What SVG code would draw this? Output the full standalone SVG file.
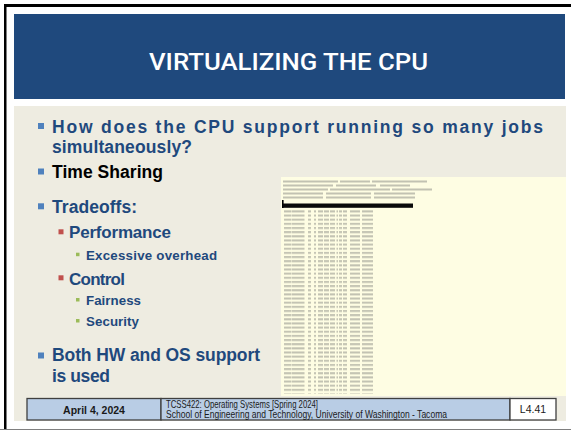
<svg xmlns="http://www.w3.org/2000/svg" width="571" height="431" viewBox="0 0 571 431">
<defs>
<style>
.t1{font-family:"Liberation Sans",Arial,sans-serif;font-weight:bold;font-size:17.5px;fill:#1F497D}
.t2{font-family:"Liberation Sans",Arial,sans-serif;font-weight:bold;font-size:17px;fill:#1F497D}
.t3{font-family:"Liberation Sans",Arial,sans-serif;font-weight:bold;font-size:13.3px;fill:#1F497D}
.ft{font-family:"Liberation Sans",Arial,sans-serif;font-size:10.5px;fill:#1a1a1a}
.fb{stroke:#3F3F3F;stroke-width:1.3}
.b1{fill:#4F81BD}
.b2{fill:#C0504D}
.b3{fill:#9BBB59}
.tx{fill:#c2c2b2}
</style>
<pattern id="rows" patternUnits="userSpaceOnUse" x="281" y="209.5" width="285" height="4.15">
<rect class="tx" x="3" y="0.9" width="7" height="2"/>
<rect class="tx" x="10.5" y="0.9" width="13" height="2"/>
<rect class="tx" x="27" y="0.9" width="3" height="2"/>
<rect class="tx" x="33" y="0.9" width="2" height="2"/>
<rect class="tx" x="37" y="0.9" width="5" height="2"/>
<rect class="tx" x="43" y="0.9" width="5" height="2"/>
<rect class="tx" x="49" y="0.9" width="5" height="2"/>
<rect class="tx" x="55.5" y="0.9" width="1.5" height="2"/>
<rect class="tx" x="58" y="0.9" width="3" height="2"/>
<rect class="tx" x="62" y="0.9" width="4" height="2"/>
<rect class="tx" x="69" y="0.9" width="10" height="2"/>
<rect class="tx" x="81" y="0.9" width="11" height="2"/>
</pattern>
</defs>
<rect width="571" height="431" fill="#ffffff"/>
<rect x="4" y="4" width="567" height="3" fill="#000"/>
<rect x="4" y="4" width="2.5" height="425" fill="#000"/>
<line x1="0" y1="429.5" x2="571" y2="429.5" stroke="#7f7f7f" stroke-width="1.2"/>

<g id="header">
<rect x="14" y="14" width="551" height="85" fill="#1F497D"/>
<text x="149" y="70" font-family="Roboto,'Liberation Sans',sans-serif" font-weight="500" font-size="24.5" fill="#ffffff" textLength="279" lengthAdjust="spacingAndGlyphs">VIRTUALIZING THE CPU</text>
</g>

<g id="content">
<rect x="14" y="106" width="552" height="315" fill="#EEECE1"/>
</g>

<g id="screenshot">
<rect x="281" y="177" width="285" height="219" fill="#FEFDE3"/>
<g class="tx">
<rect x="283" y="180.5" width="55" height="2"/><rect x="340" y="180.5" width="30" height="2"/><rect x="372" y="180.5" width="55" height="2"/>
<rect x="283" y="184.5" width="50" height="2"/><rect x="336" y="184.5" width="40" height="2"/><rect x="380" y="184.5" width="30" height="2"/>
<rect x="283" y="188.5" width="45" height="2"/><rect x="330" y="188.5" width="60" height="2"/><rect x="392" y="188.5" width="40" height="2"/>
<rect x="283" y="192.5" width="40" height="2"/><rect x="326" y="192.5" width="45" height="2"/><rect x="374" y="192.5" width="41" height="2"/>
<rect x="283" y="196.5" width="40" height="2"/><rect x="326" y="196.5" width="45" height="2"/><rect x="374" y="196.5" width="41" height="2"/>
</g>
<rect x="282" y="200" width="1.6" height="8" fill="#000"/>
<rect x="283" y="203.5" width="130" height="4.3" fill="#0a0a0a"/>
<rect x="281" y="209.5" width="285" height="184" fill="url(#rows)"/>
</g>

<g id="bullets">
<rect class="b1" x="38" y="123" width="6" height="6"/>
<text class="t1" x="52" y="133" textLength="491" lengthAdjust="spacing">How does the CPU support running so many jobs</text>
<text class="t1" x="52" y="153" textLength="140" lengthAdjust="spacing">simultaneously?</text>
<rect class="b1" x="38" y="168.5" width="6" height="6"/>
<text class="t1" x="52" y="178" textLength="111" lengthAdjust="spacing" style="fill:#000">Time Sharing</text>
<rect class="b1" x="38" y="203.3" width="6" height="6"/>
<text class="t1" x="52" y="212.5" textLength="85" lengthAdjust="spacing">Tradeoffs:</text>
<rect class="b2" x="58.5" y="229.3" width="5" height="5"/>
<text class="t2" x="69" y="238.3" textLength="102" lengthAdjust="spacing">Performance</text>
<rect class="b3" x="76" y="252.7" width="3.5" height="3.5"/>
<text class="t3" x="86" y="259.5" textLength="131" lengthAdjust="spacing">Excessive overhead</text>
<rect class="b2" x="58.5" y="275.3" width="5" height="5"/>
<text class="t2" x="69" y="284.5" textLength="56" lengthAdjust="spacing">Control</text>
<rect class="b3" x="76" y="298" width="3.5" height="3.5"/>
<text class="t3" x="86" y="305" textLength="55" lengthAdjust="spacing">Fairness</text>
<rect class="b3" x="76" y="319" width="3.5" height="3.5"/>
<text class="t3" x="86" y="326" textLength="53" lengthAdjust="spacing">Security</text>
<rect class="b1" x="38" y="352.5" width="6" height="6"/>
<text class="t1" x="52" y="361" textLength="208" lengthAdjust="spacing">Both HW and OS support</text>
<text class="t1" x="52" y="382" textLength="58" lengthAdjust="spacing">is used</text>
</g>

<g id="footer">
<rect class="fb" x="27" y="398.5" width="134" height="21.5" fill="#B9CDE5"/>
<rect class="fb" x="161" y="398.5" width="349" height="21.5" fill="#B9CDE5"/>
<rect class="fb" x="510" y="398.5" width="46" height="21.5" fill="#ffffff"/>
<text class="ft" x="94" y="413.5" text-anchor="middle" font-weight="bold" font-size="11">April 4, 2024</text>
<text class="ft" x="166" y="407.5" textLength="152" lengthAdjust="spacingAndGlyphs">TCSS422: Operating Systems [Spring 2024]</text>
<text class="ft" x="166" y="418" textLength="281" lengthAdjust="spacingAndGlyphs">School of Engineering and Technology, University of Washington - Tacoma</text>
<text class="ft" x="533" y="413" text-anchor="middle">L4.41</text>
</g>
</svg>
